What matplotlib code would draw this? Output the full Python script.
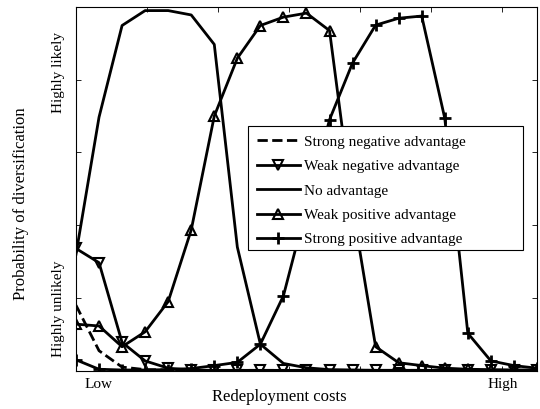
import matplotlib.pyplot as plt
import numpy as np
from matplotlib.patches import Rectangle

plt.rcParams['font.family'] = ['Liberation Serif', 'DejaVu Serif']

# redeployment cost levels (21 steps along the axis)
cost = np.arange(21) * 0.0325

strong_neg = [0.18, 0.055, 0.01, 0.003, 0.002, 0.001, 0.001, 0.001, 0.001, 0.001, 0.001,
              0.001, 0.001, 0.001, 0.001, 0.001, 0.001, 0.001, 0.001, 0.001, 0.001]
weak_neg = [0.336, 0.297, 0.078, 0.027, 0.007, 0.002, 0.001, 0.001, 0.001, 0.001, 0.001,
            0.001, 0.001, 0.001, 0.001, 0.001, 0.001, 0.001, 0.001, 0.001, 0.001]
no_adv = [0.32, 0.697, 0.949, 0.99, 0.99, 0.978, 0.897, 0.34, 0.073, 0.02, 0.008,
          0.003, 0.002, 0.001, 0.001, 0.001, 0.001, 0.001, 0.001, 0.001, 0.001]
weak_pos = [0.128, 0.123, 0.066, 0.107, 0.19, 0.387, 0.70, 0.859, 0.949, 0.972, 0.983,
            0.935, 0.45, 0.066, 0.022, 0.014, 0.007, 0.004, 0.003, 0.002, 0.002]
strong_pos = [0.03, 0.004, 0.002, 0.002, 0.003, 0.006, 0.014, 0.023, 0.073, 0.206, 0.45,
              0.69, 0.846, 0.95, 0.969, 0.975, 0.694, 0.103, 0.027, 0.014, 0.007]

fig = plt.figure(figsize=(5.4, 4.09), dpi=100)
ax = fig.add_axes([0.1407, 0.0936, 0.8537, 0.8894])

lw = 2
ax.plot(cost, strong_neg, 'k--', lw=lw, label='Strong negative advantage')
ax.plot(cost, weak_neg, 'k-', marker='v', mfc='none', ms=7, mew=1.5, lw=lw,
        label='Weak negative advantage')
ax.plot(cost, no_adv, 'k-', lw=lw, label='No advantage')
ax.plot(cost, weak_pos, 'k-', marker='^', mfc='none', ms=7, mew=1.5, lw=lw,
        label='Weak positive advantage')
ax.plot(cost, strong_pos, 'k-', marker='+', ms=8, mew=2, lw=lw,
        label='Strong positive advantage')

ax.set_xlim(0, 0.65)
ax.set_ylim(0, 1)

# major ticks without labels, text labels put on minor ticks
ax.set_xticks(np.arange(0, 0.61, 0.1), [])
ax.set_yticks(np.arange(0, 1.01, 0.2), [])
ax.set_xticks([0.0314, 0.602], ['Low', 'High'], minor=True)
ax.set_yticks([0.17, 0.82], ['Highly unlikely', 'Highly likely'], minor=True)
ax.tick_params(which='major', direction='in', length=3.5, width=0.6,
               top=True, right=True)
ax.tick_params(which='minor', length=0, labelsize=11)
ax.tick_params(axis='x', which='minor', pad=5)
ax.tick_params(axis='y', which='minor', pad=8)
for t in ax.get_yticklabels(minor=True):
    t.set_rotation(90)
    t.set_va('center')
for s in ax.spines.values():
    s.set_linewidth(0.8)

fig.text(279 / 540, 1 - 397 / 409, 'Redeployment costs', ha='center', va='center',
         fontsize=12)
fig.text(21 / 540, 1 - 204 / 409, 'Probability of diversification', ha='center',
         va='center', rotation=90, fontsize=12)

# legend box drawn separately so it can be wider than the text, like the original
box = Rectangle((0.373, 0.332), 0.597, 0.341, transform=ax.transAxes,
                facecolor='white', edgecolor='black', lw=0.8, zorder=4.9)
ax.add_patch(box)
leg = ax.legend(loc='upper left', bbox_to_anchor=(0.373, 0.673), fontsize=11,
                frameon=False, handlelength=2.8, labelspacing=0.7,
                borderpad=0.6, handletextpad=0.3, borderaxespad=0)

fig.savefig('out.png', dpi=100)
